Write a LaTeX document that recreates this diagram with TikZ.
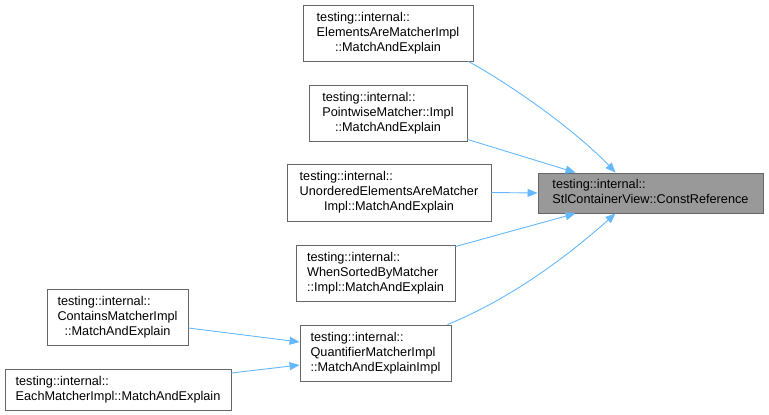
\documentclass[tikz,border=0pt]{standalone}
\usepackage{fontspec}
\setmainfont{Liberation Sans}
\usetikzlibrary{arrows.meta,calc}
\definecolor{edgeblue}{HTML}{63B8FF}
\definecolor{boxgray}{HTML}{666666}
\definecolor{fillgray}{HTML}{999999}
\newcommand{\lblthree}[3]{\begin{tabular}{@{}l@{}}#1\\#2\\\multicolumn{1}{@{}c@{}}{#3}\end{tabular}}
\newcommand{\lbltwo}[2]{\begin{tabular}{@{}l@{}}#1\\\multicolumn{1}{@{}c@{}}{#2}\end{tabular}}
\begin{document}
\begin{tikzpicture}[x=1pt,y=-1pt,
  box/.style={draw=boxgray,line width=0.9pt,fill=white,inner sep=0pt,minimum height=56pt,
    font=\fontsize{12.7}{15}\selectfont},
  tbox/.style={box,fill=fillgray},
  edge/.style={draw=edgeblue,line width=0.9pt,-{Triangle[length=10pt,width=8pt]}}]
\useasboundingbox (0,0) rectangle (769,415);
\node[box,minimum width=170pt] (n1) at (388,33) {\lblthree{testing::internal::}{ElementsAreMatcherImpl}{::MatchAndExplain}};
\node[box,minimum width=158pt] (n2) at (388,113) {\lblthree{testing::internal::}{PointwiseMatcher::Impl}{::MatchAndExplain}};
\node[box,minimum width=204pt,minimum height=57pt] (n3) at (389,192.5) {\lblthree{testing::internal::}{UnorderedElementsAreMatcher}{Impl::MatchAndExplain}};
\node[box,minimum width=159pt] (n4) at (375.5,273) {\lblthree{testing::internal::}{WhenSortedByMatcher}{::Impl::MatchAndExplain}};
\node[box,minimum width=151pt] (q) at (375.5,353) {\lblthree{testing::internal::}{QuantifierMatcherImpl}{::MatchAndExplainImpl}};
\node[box,minimum width=141pt] (c) at (117.5,317) {\lblthree{testing::internal::}{ContainsMatcherImpl}{::MatchAndExplain}};
\node[box,minimum width=226pt,minimum height=41pt] (e) at (118,389.5) {\lbltwo{testing::internal::}{EachMatcherImpl::MatchAndExplain}};
\node[tbox,minimum width=225pt,minimum height=40pt] (t) at (650.5,193) {\lbltwo{testing::internal::}{StlContainerView::ConstReference}};
\path[edge] ($(n1.south east)+(-5,0)$) .. controls (520,90) and (580,135) .. ($(t.north)+(-35,0)$);
\path[edge] ($(n2.south east)+(0,-2)$) -- ($(t.north)+(-75,0)$);
\path[edge] (n3.east) -- (t.west);
\path[edge] ($(n4.north east)+(0,2)$) -- ($(t.south)+(-75,0)$);
\path[edge] ($(q.north east)+(-4,0)$) .. controls (520,295) and (580,245) .. ($(t.south)+(-35,0)$);
\path[edge] ($(c.east)+(0,11)$) -- ($(q.west)+(0,-11)$);
\path[edge] ($(e.east)+(0,-16.5)$) -- ($(q.west)+(0,12)$);
\end{tikzpicture}
\end{document}
